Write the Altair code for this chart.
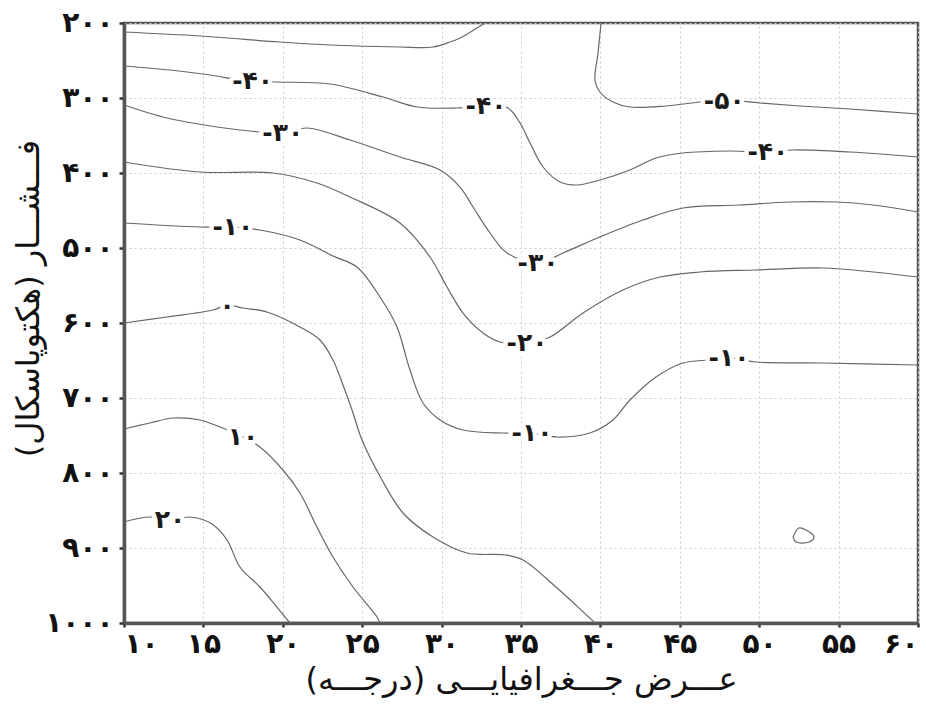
import altair as alt
import pandas as pd

# ---------------- data (latitude in degrees, pressure in hPa) ----------------
x_ticks = [10, 15, 20, 25, 30, 35, 40, 45, 50, 55, 60]
x_labels = ["۱۰", "۱۵", "۲۰", "۲۵", "۳۰", "۳۵", "۴۰", "۴۵", "۵۰", "۵۵", "۶۰"]
y_ticks = [200, 300, 400, 500, 600, 700, 800, 900, 1000]
y_labels = ["۲۰۰", "۳۰۰", "۴۰۰", "۵۰۰", "۶۰۰", "۷۰۰", "۸۰۰", "۹۰۰", "۱۰۰۰"]

x_title = "عـــرض جـــغرافیایـــی (درجـــه)\u200f"
y_title = "فـــشـــار (هکتوپاسکال)\u200f"

# contour -50 (upper left branch)
c_m50a_lat = [10.0, 14.79, 19.82, 22.97, 27.38, 29.46, 30.53, 31.16, 31.92, 32.73]
c_m50a_p = [212.0, 217.3, 225.3, 229.3, 232.0, 232.0, 225.3, 220.0, 210.7, 200.0]
# contour -50 (right branch)
c_m50b_lat = [40.04, 39.85, 39.66, 39.97, 40.79, 41.86, 44.07, 46.27, 47.91, 50.05, 52.57, 55.72, 60.0]
c_m50b_p = [200.0, 240.0, 276.0, 292.0, 305.3, 312.0, 310.7, 305.3, 302.7, 306.7, 310.7, 314.7, 321.3]
# contour -40
c_m40_lat = [10.0, 12.9, 15.42, 17.3, 18.12, 19.63, 22.97, 26.31, 28.45, 30.97, 32.8, 34.18, 34.94,
             35.57, 36.39, 37.46, 38.53, 39.97, 41.86, 43.5, 45.2, 48.16, 50.55, 52.13, 55.72, 60.0]
c_m40_p = [257.3, 262.7, 269.3, 276.0, 277.3, 278.7, 281.3, 298.7, 312.0, 313.3, 310.7, 313.3, 333.3,
           360.0, 392.0, 412.0, 416.0, 409.3, 396.0, 380.0, 373.3, 370.7, 372.0, 369.3, 372.0, 378.7]
# contour -30
c_m30_lat = [10.0, 12.71, 15.86, 17.93, 20.01, 21.52, 24.23, 27.38, 29.9, 31.16, 31.98, 33.05, 34.12,
             36.07, 37.65, 39.97, 42.68, 45.2, 48.73, 51.88, 54.84, 57.17, 60.0]
c_m30_p = [309.3, 326.7, 338.7, 344.0, 346.7, 340.0, 356.0, 378.7, 396.0, 418.7, 445.3, 480.0, 506.7,
           520.0, 506.7, 485.3, 462.7, 446.7, 442.7, 438.7, 438.7, 442.7, 452.0]
# contour -20
c_m20_lat = [10.0, 14.79, 19.38, 22.15, 24.23, 27.38, 29.27, 30.34, 31.35, 32.61, 33.68, 35.38, 36.83,
             38.9, 41.42, 43.75, 46.27, 49.8, 54.02, 57.17, 60.0]
c_m20_p = [385.3, 398.7, 400.0, 413.3, 432.0, 466.7, 512.0, 552.0, 586.7, 613.3, 625.3, 626.7, 618.7,
           586.7, 556.0, 538.7, 532.0, 529.3, 526.7, 532.0, 538.7]
# contour -10
c_m10_lat = [10.0, 14.79, 16.86, 18.56, 21.08, 23.16, 24.67, 26.12, 27.19, 28.01, 28.83, 29.9, 31.35,
             33.87, 35.69, 37.27, 39.34, 40.79, 41.86, 43.5, 45.2, 46.84, 48.35, 49.8, 54.02, 60.0]
c_m10_p = [466.7, 472.0, 472.0, 476.0, 489.3, 510.7, 525.3, 565.3, 605.3, 662.7, 706.7, 729.3, 742.7,
           746.7, 746.7, 752.0, 746.7, 729.3, 702.7, 672.0, 653.3, 649.3, 646.7, 652.0, 653.3, 656.0]
# contour 0
c_0_lat = [10.0, 12.71, 15.6, 16.49, 17.49, 19.0, 21.08, 22.34, 23.16, 23.79, 24.36, 24.99, 26.18,
           27.57, 29.46, 31.6, 34.06, 35.13, 37.2, 39.66]
c_0_p = [600.0, 592.0, 582.7, 576.0, 580.0, 585.3, 605.3, 622.7, 649.3, 682.7, 716.0, 756.0, 806.7,
         853.3, 885.3, 906.7, 909.3, 916.0, 952.0, 1000.0]
# contour 10
c_10_lat = [10.0, 11.64, 13.09, 14.79, 16.05, 17.49, 18.56, 20.01, 21.08, 22.15, 23.16, 24.42, 25.93, 26.12]
c_10_p = [741.3, 733.3, 726.7, 729.3, 738.7, 752.0, 765.3, 796.0, 826.7, 872.0, 912.0, 952.0, 992.0, 1000.0]
# contour 20
c_20_lat = [10.0, 11.64, 12.9, 14.16, 15.54, 16.49, 17.3, 18.56, 19.63, 20.45]
c_20_p = [865.3, 858.7, 862.7, 858.7, 868.0, 889.3, 925.3, 952.0, 978.7, 1000.0]
# small closed contour
c_loop_lat = [52.13, 52.5, 52.95, 53.45, 53.14, 52.32, 52.13]
c_loop_p = [885.3, 873.3, 876.0, 885.3, 892.0, 892.0, 885.3]

label_text = ["-۵۰", "-۴۰", "-۴۰", "-۴۰", "-۳۰", "-۳۰", "-۲۰", "-۱۰", "-۱۰", "-۱۰", "۰", "۱۰", "۲۰"]
label_lat = [47.8, 18.1, 32.8, 50.55, 20.0, 36.07, 35.38, 16.86, 35.69, 48.1, 16.49, 17.49, 12.9]
label_p = [304.0, 277.3, 310.7, 372.0, 346.7, 520.0, 626.7, 472.0, 746.7, 646.7, 577.3, 752.0, 862.7]

# ---------------- build tables ----------------
contours = {
    "m50a": (c_m50a_lat, c_m50a_p), "m50b": (c_m50b_lat, c_m50b_p),
    "m40": (c_m40_lat, c_m40_p), "m30": (c_m30_lat, c_m30_p),
    "m20": (c_m20_lat, c_m20_p), "m10": (c_m10_lat, c_m10_p),
    "c0": (c_0_lat, c_0_p), "c10": (c_10_lat, c_10_p),
    "c20": (c_20_lat, c_20_p), "loop": (c_loop_lat, c_loop_p),
}
rows = []
for cid, (lats, ps) in contours.items():
    for i, (la, pp) in enumerate(zip(lats, ps)):
        rows.append({"cid": cid, "idx": i, "lat": la, "p": pp})
lines_df = pd.DataFrame(rows)
labels_df = pd.DataFrame({"lat": label_lat, "p": label_p, "text": label_text})


def lookup_expr(ticks, labels):
    t = ",".join(str(v) for v in ticks)
    l = ",".join("'" + s + "'" for s in labels)
    return f"[{l}][indexof([{t}], datum.value)]"


FONT = "DejaVu Sans"
common_axis = dict(
    grid=True, gridColor="#cccccc", gridDash=[2, 3], gridWidth=1,
    domainColor="#555555", domainWidth=3.5,
    tickColor="#333333", tickWidth=2.5,
    labelFont=FONT, labelFontWeight="bold", labelColor="#111111", labelFontSize=28,
    titleFont=FONT, titleFontWeight="normal", titleColor="#111111", titleFontSize=32,
)

x_enc = alt.X("lat:Q", scale=alt.Scale(domain=[10, 60], nice=False, zero=False),
              axis=alt.Axis(values=x_ticks, labelExpr=lookup_expr(x_ticks, x_labels),
                            title=x_title, tickSize=4, labelPadding=3,
                            labelFlush=True, titleY=66, titleBaseline="alphabetic",
                            **common_axis))
y_enc = alt.Y("p:Q", scale=alt.Scale(domain=[200, 1000], reverse=True, nice=False, zero=False),
              axis=alt.Axis(values=y_ticks, labelExpr=lookup_expr(y_ticks, y_labels),
                            title=y_title, tickSize=5, labelPadding=6,
                            titleX=-86, titleY=275, titleAngle=-90, titleBaseline="alphabetic",
                            titleAlign="center", **common_axis))

lines = alt.Chart(lines_df).mark_line(
    interpolate="catmull-rom", color="#666666", strokeWidth=1.2
).encode(x=x_enc, y=y_enc, detail="cid:N", order=alt.Order("idx:Q"))

halo = alt.Chart(labels_df).mark_text(
    font=FONT, fontSize=25, fontWeight="bold", fill="white", stroke="white",
    strokeWidth=9, strokeJoin="round", align="center", baseline="middle"
).encode(x=x_enc, y=y_enc, text="text:N")

texts = alt.Chart(labels_df).mark_text(
    font=FONT, fontSize=25, fontWeight="bold", color="#1a1a1a",
    align="center", baseline="middle"
).encode(x=x_enc, y=y_enc, text="text:N")

chart = alt.layer(lines, halo, texts).properties(
    width=794, height=600,
    padding={"left": 124, "top": 23, "right": 8, "bottom": 81},
    autosize=alt.AutoSizeParams(type="none"),
    background="white",
).configure_view(stroke="#555555", strokeWidth=2.5)

chart.save("out.html", embed_options={"renderer": "svg", "actions": False})
